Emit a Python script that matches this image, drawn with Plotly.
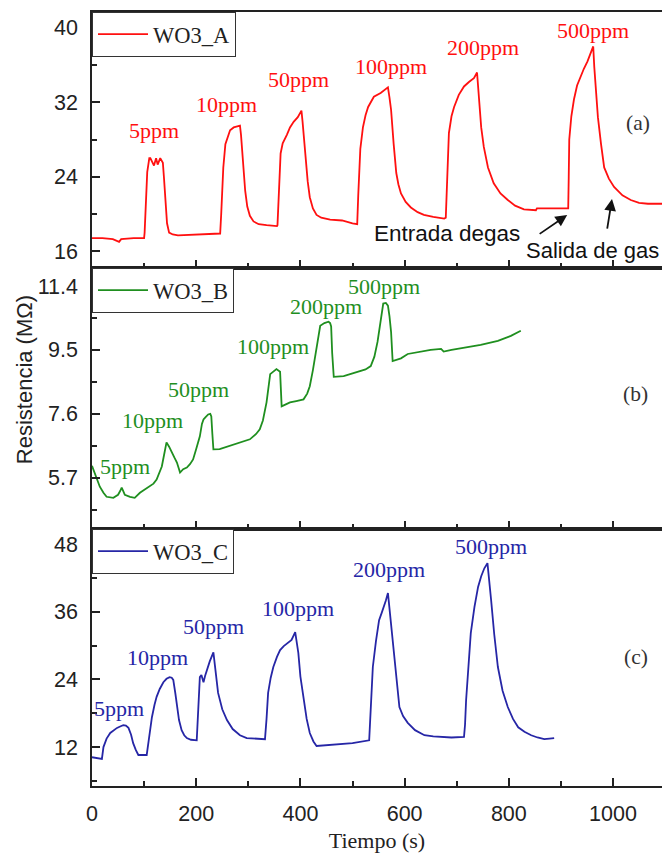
import plotly.graph_objects as go

# ---------------- data ----------------
t_a = [0, 20, 40, 52, 56, 80, 100, 101, 106, 110, 112, 119, 123, 126, 131, 136, 138, 141, 144, 148, 155, 165, 200, 246,
       248, 252, 256, 260, 265, 272, 284, 286, 290, 294, 298, 303, 310, 320, 335, 355,
       356, 358, 362, 366, 370, 374, 380, 387, 395, 402, 404, 407, 410, 414, 418, 424, 431, 440, 457,
       480, 500, 509, 511, 515, 520, 525, 530, 541, 554, 562, 568, 571, 574, 579, 584, 588, 593, 602, 612, 625, 637, 655, 676,
       679, 681, 685, 690, 695, 704, 714, 724, 733, 739, 741, 743, 747, 752, 760, 771, 784, 798, 812, 829, 852, 854, 880, 914,
       915, 916, 920, 925, 931, 938, 944, 951, 957, 962, 964, 967, 971, 977, 983, 992, 1002, 1018, 1034, 1050, 1067, 1094]
r_a = [17.4, 17.4, 17.3, 17.0, 17.3, 17.4, 17.4, 18.0, 24.5, 26.0, 26.0, 25.2, 26.0, 25.3, 26.0, 25.5, 24.0, 21.0, 19.0, 18.0, 17.8, 17.7, 17.8, 17.9,
       20.0, 25.0, 27.5, 28.2, 29.0, 29.3, 29.5, 28.5, 25.0, 22.5, 20.8, 19.8, 19.2, 18.9, 18.8, 18.7,
       18.8, 22.0, 26.5, 27.6, 28.0, 28.5, 29.3, 29.9, 30.4, 31.1, 30.0, 28.0, 26.0, 23.5, 21.8, 20.6, 19.9, 19.6, 19.4,
       19.3, 19.0, 18.9, 22.0, 27.0, 29.3, 30.6, 31.5, 32.6, 33.0, 33.3, 33.6, 32.5, 31.2, 27.5, 24.4, 23.2, 22.2, 21.3, 20.7, 20.2, 19.9, 19.7, 19.5,
       19.6, 23.0, 28.7, 30.5, 31.5, 32.8, 33.7, 34.2, 34.6, 35.2, 33.5, 31.5, 29.3, 27.2, 25.0, 23.3, 22.2, 21.5, 20.9, 20.5, 20.4, 20.6, 20.6, 20.6,
       24.0, 28.0, 30.5, 32.3, 33.8, 34.8, 35.6, 36.4, 37.2, 38.0, 35.8, 33.5, 30.4, 27.5, 25.0, 23.8, 22.9, 22.0, 21.5, 21.2, 21.1, 21.1]

t_b = [0, 8, 15, 22, 28, 41, 50, 54, 57, 60, 63, 73, 82, 92, 102, 111, 118, 124, 130, 134, 138, 143, 148, 153, 158, 163, 169,
       175, 182, 188, 194, 200, 207, 211, 214, 218, 223, 227, 229, 231, 233, 245, 255, 271, 290, 303, 315, 322, 328, 335,
       342, 348, 354, 361, 363, 364, 372, 380, 392, 406, 413, 418, 424, 431, 438, 446, 454, 457, 459, 461, 464, 483, 495,
       510, 525, 535, 542, 548, 553, 559, 564, 568, 571, 574, 577, 585, 593, 606, 630, 650, 670, 675, 690, 714, 746, 779, 804, 823]
r_b = [6.05, 5.7, 5.43, 5.25, 5.13, 5.1, 5.19, 5.3, 5.4, 5.3, 5.19, 5.13, 5.1, 5.25, 5.35, 5.43, 5.52, 5.64, 5.85, 6.03, 6.35, 6.75, 6.62, 6.48, 6.3, 6.15, 5.85,
       5.95, 6.0, 6.1, 6.24, 6.55, 6.93, 7.3, 7.43, 7.5, 7.58, 7.6, 7.52, 7.0, 6.54, 6.55, 6.6, 6.69, 6.77, 6.84, 7.0, 7.14, 7.4, 7.94,
       8.78, 8.85, 8.93, 8.85, 8.3, 7.82, 7.88, 7.94, 7.98, 8.03, 8.2, 8.42, 8.9, 9.62, 10.22, 10.3, 10.34, 10.3, 10.2, 9.4, 8.7, 8.72, 8.78,
       8.84, 8.92, 9.02, 9.3, 9.74, 10.3, 10.88, 10.9, 10.82, 10.5, 10.04, 9.17, 9.2, 9.25, 9.38, 9.45, 9.5, 9.53, 9.45, 9.5, 9.56, 9.65, 9.77, 9.92, 10.07]

t_c = [0, 19, 22, 28, 35, 42, 48, 55, 60, 65, 70, 75, 79, 84, 89, 105, 110, 115, 120, 124, 130, 137, 143, 149, 153, 156, 160, 163, 167,
       172, 177, 182, 190, 201, 203, 207, 210, 214, 217, 220, 226, 233, 236, 239, 242, 250, 259, 270, 284, 297, 315, 332,
       335, 338, 343, 348, 355, 361, 368, 374, 383, 390, 393, 396, 400, 406, 412, 418, 425, 431, 445, 459, 480, 500, 532,
       535, 539, 545, 551, 556, 560, 564, 568, 572, 577, 583, 590, 597, 606, 620, 638, 655, 670, 690, 714,
       716, 718, 722, 727, 734, 741, 747, 753, 759, 762, 766, 772, 779, 788, 798, 808, 818, 830, 843, 855, 868, 878, 887]
r_c = [10.2, 9.9, 12.0, 13.5, 14.5, 15.0, 15.4, 15.7, 15.9, 15.8, 15.4, 14.2, 12.7, 11.5, 10.6, 10.6, 13.8, 17.3, 19.5, 20.9, 22.3, 23.5, 24.1, 24.4, 24.3, 23.9, 21.5, 19.1, 16.8,
       15.0, 14.1, 13.6, 13.3, 13.2, 18.0, 24.4, 24.8, 23.5, 24.6, 25.6, 27.2, 28.8, 26.5, 23.8, 21.6, 18.7, 16.8, 15.2, 14.1, 13.6, 13.5, 13.4,
       17.0, 21.6, 24.3, 26.2, 28.0, 29.2, 29.9, 30.4, 31.0, 32.4, 30.8, 28.7, 24.5, 20.3, 17.0, 14.5, 13.0, 12.2, 12.3, 12.3, 12.5, 12.7, 13.2,
       19.0, 26.2, 30.8, 34.5, 35.8, 36.8, 38.0, 39.3, 35.5, 31.0, 25.0, 19.1, 17.5, 16.3, 15.0, 14.1, 13.9, 13.8, 13.7, 13.8,
       16.0, 20.3, 26.5, 32.2, 36.8, 40.4, 42.3, 43.7, 44.6, 42.0, 38.1, 32.0, 26.2, 22.0, 19.1, 17.0, 15.5, 14.7, 14.1, 13.7, 13.4, 13.5, 13.6]

conc_labels = ["5ppm", "10ppm", "50ppm", "100ppm", "200ppm", "500ppm"]
lab_a_t = [119, 259, 396, 574, 751, 962]
lab_a_v = [29.0, 31.8, 34.5, 35.8, 37.9, 39.7]
lab_b_t = [63, 117, 204, 347, 450, 560]
lab_b_v = [6.03, 7.4, 8.33, 9.59, 10.79, 11.38]
lab_c_t = [51, 125, 233, 395, 570, 766]
lab_c_v = [18.9, 27.8, 33.3, 36.5, 43.4, 47.5]

ticks_a = [16, 24, 32, 40]
ticks_b = [5.7, 7.6, 9.5, 11.4]
ticks_c = [12, 24, 36, 48]
ticks_x = [0, 200, 400, 600, 800, 1000]

RED = "#ff1010"
GREEN = "#1f8f1f"
BLUE = "#2626a6"
AXC = "#222222"
SERIF = "Liberation Serif"
SANS = "Liberation Sans"

fig = go.Figure()
fig.add_trace(go.Scatter(x=t_a, y=r_a, mode="lines", name="WO3_A", line=dict(color=RED, width=1.8),
                         xaxis="x", yaxis="y", legend="legend"))
fig.add_trace(go.Scatter(x=t_b, y=r_b, mode="lines", name="WO3_B", line=dict(color=GREEN, width=1.8),
                         xaxis="x2", yaxis="y2", legend="legend2"))
fig.add_trace(go.Scatter(x=t_c, y=r_c, mode="lines", name="WO3_C", line=dict(color=BLUE, width=1.8),
                         xaxis="x3", yaxis="y3", legend="legend3"))

dom_c = [0.0, 0.332]
dom_b = [0.332, 0.6693]
dom_a = [0.6693, 1.0]

xcommon = dict(range=[0, 1094], showgrid=False, zeroline=False, showline=True, linewidth=1.5, linecolor=AXC,
               mirror=True, ticks="inside", ticklen=8, tickwidth=1.5, tickcolor=AXC,
               tickvals=ticks_x, minor=dict(dtick=100, tick0=0, ticks="inside", ticklen=5, tickwidth=1.5, tickcolor=AXC),
               tickfont=dict(family=SANS, size=21.5, color=AXC))
ycommon = dict(showgrid=False, zeroline=False, showline=True, linewidth=1.5, linecolor=AXC,
               ticks="inside", ticklen=8, tickwidth=1.5, tickcolor=AXC, ticklabelstandoff=8,
               tickfont=dict(family=SANS, size=21.5, color=AXC))

fig.update_layout(
    width=662, height=854,
    margin=dict(l=92, r=0, t=12, b=68),
    paper_bgcolor="white", plot_bgcolor="white",
    xaxis=dict(**xcommon, anchor="y", domain=[0, 1], showticklabels=False),
    xaxis2=dict(**xcommon, anchor="y2", domain=[0, 1], matches="x", showticklabels=False),
    xaxis3=dict(**xcommon, anchor="y3", domain=[0, 1], matches="x", ticklabelstandoff=7,
                title=dict(text="Tiempo (s)", font=dict(family=SERIF, size=22, color=AXC), standoff=8)),
    yaxis=dict(**ycommon, domain=dom_a, range=[14.2, 41.7], tickvals=ticks_a,
               minor=dict(tick0=16, dtick=4, ticks="inside", ticklen=5, tickwidth=1.5, tickcolor=AXC)),
    yaxis2=dict(**ycommon, domain=dom_b, range=[4.17, 11.94], tickvals=ticks_b,
                ticktext=["%.1f" % v for v in ticks_b],
                minor=dict(tick0=4.75, dtick=1.9, ticks="inside", ticklen=5, tickwidth=1.5, tickcolor=AXC)),
    yaxis3=dict(**ycommon, domain=dom_c, range=[5.1, 50.66], tickvals=ticks_c,
                minor=dict(tick0=6, dtick=12, ticks="inside", ticklen=5, tickwidth=1.5, tickcolor=AXC)),
    showlegend=True,
)

leg_common = dict(x=0, xanchor="left", yanchor="top", bgcolor="white", bordercolor="#333333", borderwidth=1,
                  font=dict(family=SERIF, size=22.5, color="#222222"), itemwidth=50)
fig.update_layout(legend=dict(**leg_common, y=dom_a[1]),
                  legend2=dict(**leg_common, y=dom_b[1]),
                  legend3=dict(**leg_common, y=dom_c[1]))

ann = []
for labs_t, labs_v, col, ax in [(lab_a_t, lab_a_v, RED, ""), (lab_b_t, lab_b_v, GREEN, "2"), (lab_c_t, lab_c_v, BLUE, "3")]:
    for txt, tt, vv in zip(conc_labels, labs_t, labs_v):
        ann.append(dict(x=tt, y=vv, xref="x" + ax, yref="y" + ax, text=txt, showarrow=False,
                        xanchor="center", yanchor="middle",
                        font=dict(family=SERIF, size=22, color=col)))

ann.append(dict(x=1048, y=29.8, xref="x", yref="y", text="(a)", showarrow=False,
                font=dict(family=SERIF, size=21.5, color="#333333")))
ann.append(dict(x=1044, y=8.18, xref="x2", yref="y2", text="(b)", showarrow=False,
                font=dict(family=SERIF, size=21.5, color="#333333")))
ann.append(dict(x=1044, y=28.0, xref="x3", yref="y3", text="(c)", showarrow=False,
                font=dict(family=SERIF, size=21.5, color="#333333")))

# gas in/out annotations
ann.append(dict(x=681, y=17.9, xref="x", yref="y", text="Entrada degas", showarrow=False,
                xanchor="center", yanchor="middle",
                font=dict(family=SANS, size=22.5, color="#111111")))
ann.append(dict(x=829, y=16.1, xref="x", yref="y", text="Salida de gas", showarrow=False,
                xanchor="left", yanchor="middle",
                font=dict(family=SANS, size=22, color="#111111")))
ann.append(dict(x=912, y=19.9, xref="x", yref="y", text="", showarrow=True, ax=-29, ay=20,
                arrowhead=2, arrowsize=1.3, arrowwidth=1.8, arrowcolor="#111111"))
ann.append(dict(x=998, y=21.6, xref="x", yref="y", text="", showarrow=True, ax=-5, ay=31,
                arrowhead=2, arrowsize=1.3, arrowwidth=1.8, arrowcolor="#111111"))

ann.append(dict(x=-0.119, y=0.5245, xref="paper", yref="paper", text="Resistencia (MΩ)", showarrow=False,
                xanchor="center", yanchor="middle",
                textangle=-90, font=dict(family=SANS, size=22, color="#222222")))

fig.update_layout(annotations=ann)

fig.write_html("out.html")
